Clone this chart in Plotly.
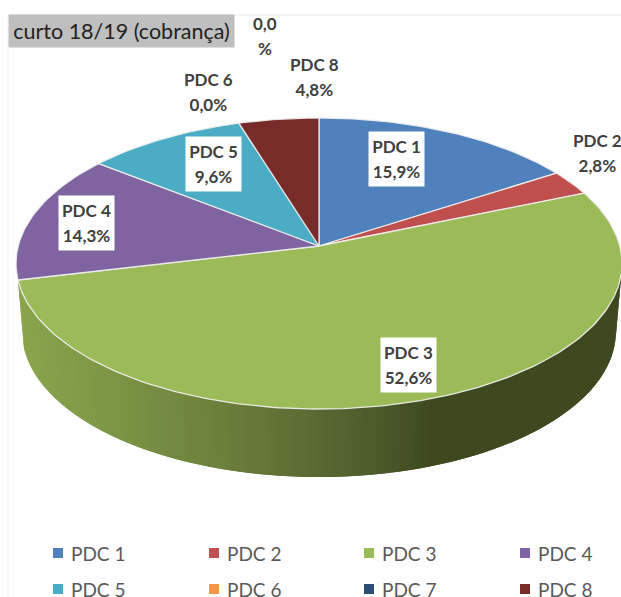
import math
import plotly.graph_objects as go

categories = ["PDC 1", "PDC 2", "PDC 3", "PDC 4", "PDC 5", "PDC 6", "PDC 7", "PDC 8"]
percent = [15.9, 2.8, 52.6, 14.3, 9.6, 0.0, 0.0, 4.8]
colors = ["#4f81bd", "#c0504d", "#9bbb59", "#8064a2", "#4bacc6", "#f79646", "#2c4d75", "#772c2a"]
label_x = [396.5, 597, 408, 86.5, 213, 208, 264.5, 314]
label_y = [159, 152.5, 365, 223, 164, 92, 36, 76.5]
label_boxed = [True, False, True, True, True, False, False, False]
legend_x = [58, 214, 369, 525, 58, 214, 369, 525]
legend_y = [553, 553, 553, 553, 589, 589, 589, 589]
title_text = "curto 18/19 (cobrança)"

# projection of the tilted disc
CX, CY = 319, 246
A, B, K = 300.8, 143.4, 0.1203
DEPTH = 68
FONT = "Lato"


def top(theta):
    d = 1 + K * math.cos(theta)
    return CX + A * math.sin(theta) / d, CY - B * math.cos(theta) / d


def low(theta):
    d = 1 + K * math.cos(theta)
    return CX + 0.98 * A * math.sin(theta) / d, CY + DEPTH - B * math.cos(theta) / d


def wall_color(x):
    stops = [(20, (138, 165, 77)), (120, (124, 150, 70)), (230, (108, 128, 60)),
             (320, (92, 108, 52)), (380, (78, 92, 44)), (440, (63, 74, 33)), (621, (62, 73, 32))]
    for (x0, c0), (x1, c1) in zip(stops, stops[1:]):
        if x <= x1:
            t = max(0, (x - x0) / (x1 - x0))
            return "rgb(%d,%d,%d)" % tuple(c0[i] + (c1[i] - c0[i]) * t for i in range(3))
    return "rgb(62,73,32)"


fig = go.Figure()
cum = [0]
for v in percent:
    cum.append(cum[-1] + v)
total = cum[-1]
ang = [c / total * 2 * math.pi for c in cum]

# wall of the only slice facing the viewer (strips overlap so no seams show)
start = max(ang[2], math.acos(-K))
end = ang[3]
N = 120
for i in reversed(range(N)):
    a0 = start + (end - start) * i / N
    a1 = start + (end - start) * min(i + 2, N) / N
    steps = [a0, (a0 + a1) / 2, a1]
    p = [top(a) for a in steps] + [low(a) for a in reversed(steps)]
    p.append(p[0])
    col = wall_color((top(a0)[0] + top((a0 + start + (end - start) * (i + 1) / N) / 2)[0]) / 2)
    fig.add_trace(go.Scatter(x=[q[0] for q in p], y=[q[1] for q in p], mode="lines",
                             fill="toself", fillcolor=col, line=dict(color=col, width=0),
                             hoverinfo="skip", showlegend=False))

# top face
for i, (name, col) in enumerate(zip(categories, colors)):
    if percent[i] == 0:
        continue
    n = max(2, int(percent[i] * 3))
    pts = [top(ang[i] + (ang[i + 1] - ang[i]) * j / n) for j in range(n + 1)]
    xs = [CX] + [q[0] for q in pts] + [CX]
    ys = [CY] + [q[1] for q in pts] + [CY]
    fig.add_trace(go.Scatter(x=xs, y=ys, mode="lines", fill="toself", fillcolor=col,
                             line=dict(color="rgba(240,240,240,0.9)", width=1.3),
                             name=name, hoverinfo="name", showlegend=False))

annotations = []
for i, name in enumerate(categories):
    val = f"{percent[i]:.1f}".replace(".", ",")
    lines = [val, "%"] if name == "PDC 7" else [name, val + "%"]
    text = "<br>".join(f'<span style="font-size:17px"><b>{s}</b></span>' for s in lines)
    a = dict(x=label_x[i], y=label_y[i], xref="x", yref="y", text=text, showarrow=False,
             font=dict(family=FONT, size=19, color="#404040"), align="center", valign="middle")
    if label_boxed[i]:
        a.update(bgcolor="white", width=53, height=52)
    annotations.append(a)
    # legend key: marker and name
    fig.add_trace(go.Scatter(x=[legend_x[i]], y=[legend_y[i]], mode="markers", name=name,
                             marker=dict(symbol="square", size=10, color=colors[i]),
                             hoverinfo="name", showlegend=False))
    annotations.append(dict(x=legend_x[i] + 11, y=legend_y[i], xref="x", yref="y", text=name, showarrow=False,
                            xanchor="left", font=dict(family=FONT, size=19, color="#595959")))
annotations.append(dict(x=121, y=31, xref="x", yref="y", text=title_text, showarrow=False,
                        font=dict(family=FONT, size=21.5, color="#222222"), bgcolor="#bfbfbf",
                        width=223, height=30, align="center"))

fig.update_layout(
    width=621, height=597, margin=dict(l=0, r=0, t=0, b=0), autosize=False,
    paper_bgcolor="white", plot_bgcolor="white", font=dict(family=FONT), showlegend=False,
    xaxis=dict(range=[0, 621], visible=False, fixedrange=True),
    yaxis=dict(range=[597, 0], visible=False, fixedrange=True),
    annotations=annotations,
    shapes=[dict(type="line", xref="x", yref="y", x0=8, x1=621, y0=15, y1=15, line=dict(color="#e6e6e6", width=1), layer="below"),
            dict(type="line", xref="x", yref="y", x0=8, x1=8, y0=15, y1=597, line=dict(color="#f2f2f2", width=1), layer="below")],
)
fig.write_html("out.html", config=dict(displayModeBar=False),
               post_script="document.body.style.margin='0';document.body.style.overflow='hidden';")
